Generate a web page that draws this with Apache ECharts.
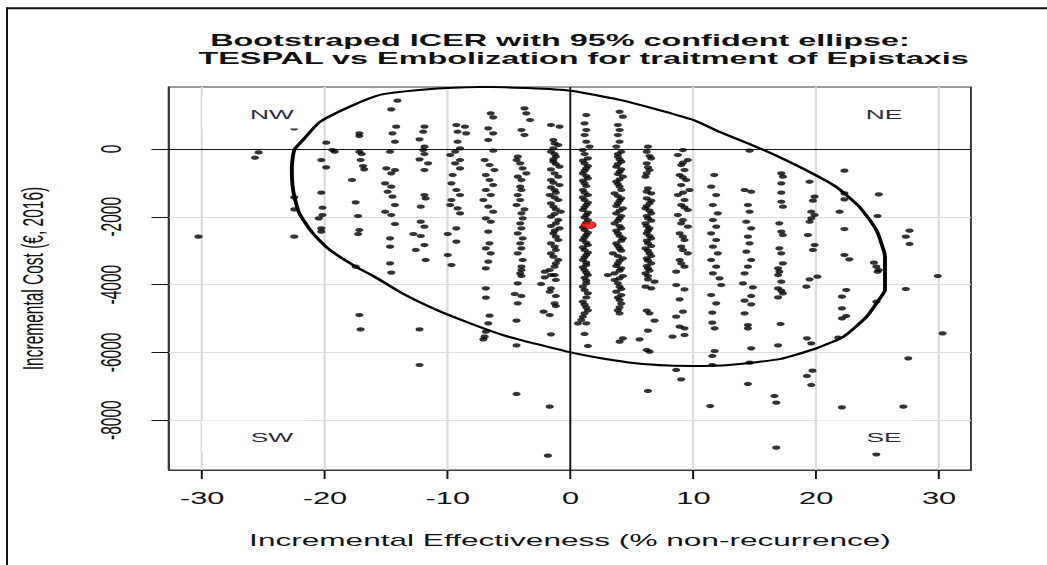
<!DOCTYPE html>
<html>
<head>
<meta charset="utf-8">
<script src="https://cdn.jsdelivr.net/npm/echarts@6/dist/echarts.min.js"></script>
<style>
  html, body { margin: 0; padding: 0; background: #ffffff; overflow: hidden; }
  #wrap { width: 1047px; height: 565px; overflow: hidden; position: relative; }
  #main { width: 537px; height: 565px; transform: scaleX(1.9497); transform-origin: 0 0; position: absolute; left: 0; top: 0; }
</style>
</head>
<body>
<div id="wrap"><div id="main"></div></div>
<script>
// ---------- data ----------
const titleLines = [
  'Bootstraped ICER with 95% confident ellipse:',
  ' TESPAL vs Embolization for traitment of Epistaxis'
];
const xName = 'Incremental Effectiveness (% non-recurrence)';
const yName = 'Incremental Cost (\u20AC, 2016)';
const xTicks = [-30, -20, -10, 0, 10, 20, 30];
const yTicks = [-8000, -6000, -4000, -2000, 0];
const quadrantLabels = ['NW', 'NE', 'SW', 'SE'];

// mean ICER point (red)
const meanPoint = [1.47, -2242];

// 95% confidence ellipse outline, read point by point
const ellipsePts = [
  [-7, 1835], [-3.5, 1800], [0, 1720], [4, 1450], [6.7, 1200], [10, 855], [12.1, 510],
  [15.1, 70], [17.2, -270], [19.7, -720], [21.6, -1110], [23.5, -1700], [24.9, -2390],
  [25.5, -3000], [25.6, -3180], [25.6, -3570], [25.6, -4160], [25.1, -4450], [24.1, -4950],
  [22.2, -5540], [20, -5880], [17, -6200], [12.9, -6370], [10, -6400], [8, -6390],
  [5.3, -6320], [2.6, -6180], [0, -6000], [-2.8, -5750], [-5.5, -5490], [-8.2, -5140],
  [-10.9, -4750], [-13.7, -4260], [-16, -3760], [-17.5, -3470], [-19.6, -2980],
  [-21.0, -2480], [-22.1, -1890], [-22.6, -1210], [-22.7, -560], [-22.5, -30],
  [-21.8, 265], [-20.4, 805], [-18, 1250], [-15.6, 1593], [-13, 1720], [-10, 1800], [-7, 1835]
];

// bootstrap replicates [effectiveness, cost]
const bootPoints = [
  // -30 / -25 / -22.6
  [-30.3,-2586],[-25.4,-99],[-25.7,-256],
  [-22.5,610],[-22.5,-1426],[-22.5,-1780],[-22.5,-2586],
  // -20
  [-19.9,187],[-19.4,-29],[-19.2,-80],[-20.3,-324],[-19.9,-541],[-20.3,-1288],[-20.2,-1731],
  [-20.2,-1947],[-20.5,-2045],[-20.3,-2340],[-20.3,-2438],
  // -17.3
  [-17.2,462],[-17.2,383],[-17.2,-79],[-17.0,-148],[-17.1,-325],[-16.9,-502],[-16.8,-600],
  [-17.8,-915],[-17.5,-1574],[-17.3,-1977],[-17.2,-2390],[-17.3,-2508],[-17.5,-3471],
  [-17.2,-4897],[-17.1,-5320],
  // -14.6
  [-14.1,1426],[-14.6,1170],[-14.2,659],[-14.5,462],[-14.3,216],[-14.7,-79],[-15.0,-570],
  [-14.3,-620],[-14.6,-718],[-15.1,-1013],[-14.6,-1111],[-14.9,-1259],[-14.5,-1406],
  [-14.3,-1652],[-15.1,-1849],[-14.6,-1947],[-14.3,-2212],[-14.7,-2635],[-14.7,-2881],
  [-14.7,-3373],[-14.6,-3648],
  // -12.2
  [-11.9,659],[-12.0,511],[-12.3,285],[-11.9,69],[-12.0,-29],[-11.9,-147],[-12.3,-305],
  [-11.6,-423],[-11.9,-619],[-11.9,-1357],[-11.8,-1455],[-12.2,-1701],[-12.2,-2143],
  [-11.9,-2291],[-12.8,-2507],[-12.2,-2566],[-11.9,-2832],[-12.6,-2979],[-11.8,-3274],
  [-12.3,-5320],[-12.3,-6372],
  // -9.3
  [-9.3,708],[-8.6,659],[-9.2,511],[-8.5,462],[-9.2,216],[-9.0,20],[-9.4,-79],[-9.8,-177],
  [-9.0,-324],[-9.4,-423],[-9.0,-570],[-9.6,-767],[-9.7,-1013],[-9.3,-1209],[-9.0,-1357],
  [-9.7,-1504],[-9.8,-1652],[-9.2,-1750],[-9.0,-1898],[-9.3,-2340],[-10.0,-2507],
  [-9.3,-2734],[-10.0,-3127],[-9.7,-3422],
  // -6.7
  [-6.5,1052],[-6.3,934],[-6.7,610],[-6.3,462],[-6.7,266],[-6.3,-49],[-7.0,-324],[-6.6,-472],
  [-6.2,-620],[-6.9,-767],[-6.6,-915],[-6.3,-1062],[-6.9,-1209],[-6.5,-1357],[-7.1,-1504],
  [-6.7,-1701],[-6.3,-1849],[-6.9,-2045],[-6.5,-2144],[-6.7,-2438],[-6.6,-2783],[-6.9,-2930],
  [-6.5,-3078],[-6.7,-3324],[-6.9,-3520],
  [-6.9,-4110],[-6.9,-4386],[-6.6,-4917],[-6.7,-5143],[-6.9,-5389],[-7.0,-5536],[-7.1,-5615],
  // -4.2
  [-3.75,1200],[-3.6,1052],[-3.3,855],[-4.0,561],[-3.75,413],[-4.3,-226],[-4.4,-324],
  [-3.9,-570],[-3.6,-718],[-4.0,-915],[-4.1,-1111],[-4.3,-1357],[-4.1,-1504],[-4.0,-1898],
  [-3.9,-2045],[-4.1,-2193],[-4.0,-2340],[-4.3,-2488],[-3.9,-2635],[-4.1,-2783],[-4.0,-2930],
  [-4.3,-3078],[-3.9,-3274],[-4.0,-3471],[-4.1,-3668],
  [-4.4,-1652],[-3.75,-1780],[-4.3,-816],[-4.0,-1209],[-4.1,-423],
  [-4.0,-3570],[-4.0,-3746],[-4.3,-3963],[-4.55,-4277],[-4.0,-4336],[-4.3,-4553],
  [-4.4,-5064],[-4.4,-5792],[-4.4,-7227],
  // -1.4
  [-1.6,708],[-0.9,659],[-1.4,266],[-1.0,118],[-1.6,-79],[-1.2,-226],[-1.4,-373],[-0.9,-521],
  [-1.3,-718],[-1.6,-915],[-0.9,-1062],[-1.3,-1209],[-1.7,-1357],[-1.0,-1504],[-1.4,-1701],
  [-0.8,-1849],[-1.6,-1996],[-1.2,-2193],[-0.9,-2340],[-1.4,-2488],[-1.0,-2685],[-1.3,-2881],
  [-1.6,-3078],[-1.2,-3373],[-1.7,-3570],[-1.3,-3717],
  [-1.3,167],[-1.4,20],[-1.3,-148],[-1.4,-305],[-1.2,-443],[-1.6,-600],[-1.0,-816],[-1.4,-993],
  [-1.6,-1131],[-1.2,-1288],[-1.3,-1426],[-1.6,-1603],[-1.2,-1780],[-1.3,-1918],[-1.0,-2095],
  [-1.6,-2271],[-1.3,-2409],[-1.2,-2586],[-1.6,-2783],[-1.2,-2979],[-1.4,-3176],[-1.0,-3274],
  [-1.3,-3471],
  [-2.1,-3619],[-1.6,-3717],[-2.1,-3786],[-1.2,-3864],[-2.4,-3982],[-1.6,-4110],[-1.7,-4209],
  [-1.2,-4336],[-1.3,-4553],[-1.2,-4632],[-2.2,-4799],[-1.7,-4897],[-1.6,-5467],[-1.7,-7601],
  [-1.85,-9047],
  // 1.1
  [1.28,1003],[1.14,757],[1.28,561],[1.14,413],[1.28,216],[1.55,69],[1.0,-29],[1.41,-275],
  [1.14,-423],[1.28,-570],[1.0,-718],[1.41,-865],[1.14,-1013],[1.0,-1209],[1.41,-1357],
  [1.14,-1504],[1.28,-1652],[1.0,-1799],[1.28,-1947],[1.41,-2095],[1.14,-2389],[1.28,-2537],
  [1.0,-2685],[1.41,-2832],[1.14,-2979],[1.28,-3127],[1.0,-3274],[1.28,-3422],[1.14,-3570],
  [1.41,-3717],
  [1.14,-147],[1.0,-344],[1.41,-501],[1.14,-639],[1.28,-796],[1.0,-934],[1.28,-1092],
  [1.14,-1288],[1.0,-1426],[1.41,-1583],[1.14,-1721],[1.41,-1878],[1.14,-2016],[1.28,-2173],
  [1.0,-2311],[1.41,-2468],[1.14,-2606],[1.28,-2763],[1.0,-2901],[1.41,-3058],[1.14,-3196],
  [1.28,-3353],[1.0,-3491],[1.28,-3648],
  [1.28,-3963],[1.14,-4160],[1.41,-4258],[1.0,-4504],[1.28,-4671],[1.14,-4848],[0.87,-5044],
  [1.28,-5143],[1.14,-5457],[1.41,-5811],[1.14,-3800],[1.28,-3880],[1.0,-4060],[1.28,-4380],
  [1.14,-4590],[1.41,-4760],[1.0,-4950],[0.6,-5143],
  // 3.9
  [3.99,1101],[4.26,954],[3.85,708],[3.99,561],[3.85,413],[3.99,216],[3.72,69],[4.13,-79],
  [3.85,-226],[4.13,-373],[3.72,-521],[3.99,-669],[4.26,-816],[3.72,-963],[3.99,-1111],
  [3.58,-1308],[4.13,-1455],[3.85,-1603],[4.26,-1750],[3.72,-1898],[3.99,-2045],[3.58,-2193],
  [4.13,-2340],[3.85,-2488],[4.26,-2635],[3.72,-2783],[3.99,-2930],[3.45,-3078],[4.26,-3225],
  [3.85,-3373],[4.13,-3520],[3.58,-3668],[3.99,-3815],
  [3.85,-147],[3.99,-305],[3.85,-443],[4.13,-600],[3.85,-737],[3.99,-895],[3.85,-1032],
  [4.13,-1209],[3.85,-1387],[3.99,-1524],[3.72,-1682],[3.99,-1819],[4.13,-1976],[3.85,-2114],
  [3.99,-2271],[3.72,-2409],[3.99,-2566],[4.13,-2704],[3.85,-2861],[4.13,-2999],[3.85,-3156],
  [3.99,-3294],[3.72,-3451],[3.99,-3589],[4.26,-3747],
  [3.04,-3717],[3.58,-3864],[3.99,-4061],[3.72,-4209],[4.13,-4307],[3.99,-4455],[3.99,-4671],
  [3.99,-4848],[4.26,-5585],[3.99,-5684],[3.85,-3960],[4.13,-4130],[3.85,-4380],[4.13,-4560],
  [3.85,-4760],
  // 6.4
  [6.3,69],[6.2,-79],[6.57,-275],[6.2,-423],[6.43,-620],[6.1,-816],[6.3,-1160],[6.57,-1308],
  [6.2,-1455],[6.43,-1603],[6.1,-1750],[6.57,-1898],[6.3,-2045],[6.1,-2193],[6.43,-2340],
  [6.2,-2488],[6.57,-2635],[6.3,-2783],[6.1,-2930],[6.43,-3078],[6.2,-3225],[6.57,-3373],
  [6.3,-3520],[6.1,-3668],
  [6.43,-206],[6.3,-541],[6.2,-718],[6.2,-1258],[6.57,-1524],[6.2,-1682],[6.43,-1819],
  [6.2,-1976],[6.57,-2114],[6.2,-2271],[6.3,-2409],[6.43,-2566],[6.2,-2704],[6.57,-2861],
  [6.3,-2999],[6.57,-3156],[6.3,-3294],[6.2,-3451],[6.43,-3589],[6.3,-3747],
  [6.3,-3845],[6.84,-3914],[6.1,-4061],[6.57,-4110],[6.2,-4769],[6.43,-4848],[6.84,-5064],
  [6.3,-5359],[5.62,-5615],[6.2,-5929],[6.43,-5979],[6.3,-7139],
  // 9.0
  [9.15,-29],[8.74,-177],[9.55,-324],[9.01,-472],[9.28,-620],[8.88,-767],[9.42,-915],
  [9.01,-1062],[9.69,-1209],[8.74,-1357],[9.28,-1504],[9.01,-1652],[9.55,-1799],[8.74,-1947],
  [9.15,-2095],[9.55,-2291],[8.88,-2488],[9.28,-2685],[9.01,-2881],[9.55,-3078],[8.88,-3274],
  [9.28,-3471],[8.6,-3619],
  [9.15,-403],[9.15,-836],[9.15,-1288],[9.28,-1721],[9.01,-2193],[9.15,-2586],[9.15,-2979],
  [9.01,-3373],
  [8.6,-4012],[9.28,-4140],[8.88,-4435],[9.15,-4799],[8.6,-4946],[8.88,-5241],[9.28,-5290],
  [9.28,-5487],[8.3,-5536],[8.6,-6519],[9.01,-6795],
  // 11.6
  [11.7,-767],[11.45,-1111],[11.86,-1357],[11.59,-1652],[11.99,-1898],[11.59,-2095],
  [11.86,-2291],[11.45,-2488],[11.86,-2685],[11.59,-2881],[11.99,-3078],[11.45,-3274],
  [11.86,-3471],[11.59,-3668],
  [12.13,-3815],[12.27,-4012],[11.45,-4307],[11.86,-4553],[11.54,-4828],[11.54,-5123],
  [11.73,-5290],[11.73,-5959],[11.54,-6106],[11.54,-6372],[11.37,-7582],
  // 14.4
  [14.58,-49],[14.17,-1209],[14.71,-1259],[14.44,-1652],[14.58,-1849],[14.31,-2144],
  [14.71,-2340],[14.44,-2586],[14.58,-2783],[14.31,-3029],[14.71,-3274],[14.44,-3471],
  [14.17,-3668],
  [14.04,-3963],[14.85,-4081],[14.71,-4336],[14.17,-4474],[14.71,-4582],[14.17,-4848],
  [14.44,-5192],[14.44,-5290],[14.71,-5880],[14.58,-6303],[14.44,-6932],
  // 17
  [17.16,-718],[17.29,-816],[17.16,-1013],[17.16,-1288],[17.16,-1554],[17.29,-1701],
  [17.0,-2193],[17.16,-2438],[17.29,-2537],[17.0,-2930],[17.16,-3078],[17.29,-3373],
  [16.9,-3520],[17.0,-3619],[16.9,-3717],
  [17.16,-3914],[16.9,-4110],[17.16,-4179],[17.29,-4258],[16.9,-4376],[17.1,-5162],
  [16.9,-5792],[16.6,-7286],[16.75,-7483],[16.75,-8811],
  // 19.6
  [19.46,-964],[19.87,-1406],[19.73,-1524],[19.6,-1849],[19.87,-1947],[19.6,-2046],
  [19.46,-2144],[19.33,-2537],[19.87,-2832],[19.73,-2979],[20.1,-3766],[19.46,-3845],
  [19.2,-4061],[19.25,-5585],[19.6,-5733],[19.7,-6539],[19.25,-6696],[19.6,-6962],
  // 22.2
  [22.3,-639],[22.3,-1308],[22.3,-1485],[21.9,-1849],[22.3,-2360],[22.3,-3127],[22.7,-3255],
  [22.45,-4160],[22.1,-4356],[22.1,-4700],[22.45,-4926],[22.1,-4995],[21.8,-5566],[22.1,-7621],
  // 25
  [25.1,-1337],[25.0,-1976],[24.7,-3353],[24.9,-3471],[25.0,-3619],[25.1,-3570],[24.9,-4504],
  [24.9,-9007],
  // 27.5 / 30
  [27.6,-2409],[27.3,-2586],[27.6,-2802],[27.3,-4130],[27.5,-6175],[27.1,-7601],
  [29.9,-3747],[30.3,-5438]
];

// ---------- chart ----------
const FONT = '"Liberation Sans", Arial, sans-serif';
const chart = echarts.init(document.getElementById('main'), null, { renderer: 'svg' });

const gridLineData = xTicks.filter(v => v !== 0).map(v => ({ xAxis: v }))
  .concat(yTicks.filter(v => v !== 0).map(v => ({ yAxis: v })));
const zeroLineData = [{ xAxis: 0 }, { yAxis: 0 }];

const boxW = 157.5 - 103.6, boxW2 = 468.8 - 420.1;

chart.setOption({
  animation: false,
  backgroundColor: '#ffffff',
  grid: { left: 86.7, right: 39.0, top: 87, bottom: 95, show: true, borderColor: '#3a3a3a', borderWidth: 1, backgroundColor: 'transparent' },
  xAxis: {
    type: 'value', min: -32.7, max: 32.6,
    name: xName, nameLocation: 'middle', nameGap: 62,
    nameTextStyle: { fontFamily: FONT, fontSize: 16.2, color: '#111' },
    axisLine: { show: true, onZero: false, lineStyle: { color: '#3a3a3a', width: 1 } },
    axisTick: { show: true, customValues: xTicks, length: 9, lineStyle: { color: '#111', width: 1 } },
    axisLabel: { customValues: xTicks, fontFamily: FONT, fontSize: 15.8, color: '#111', margin: 21, formatter: v => String(v) },
    splitLine: { show: false }
  },
  yAxis: {
    type: 'value', min: -9470, max: 1830,
    name: yName, nameLocation: 'middle', nameGap: 62,
    nameTextStyle: { fontFamily: FONT, fontSize: 15.5, color: '#111' },
    axisLine: { show: true, onZero: false, lineStyle: { color: '#3a3a3a', width: 1 } },
    axisTick: { show: true, customValues: yTicks, length: 9, lineStyle: { color: '#111', width: 1 } },
    axisLabel: { customValues: yTicks, rotate: 90, fontFamily: FONT, fontSize: 15.5, color: '#111', margin: 22, formatter: v => String(v) },
    splitLine: { show: false }
  },
  series: [
    {
      type: 'scatter', name: 'Bootstrap replicates', data: bootPoints,
      symbol: 'circle', symbolSize: 4.2, silent: true, z: 4,
      itemStyle: { color: '#000000' },
      markLine: {
        silent: true, symbol: ['none', 'none'], z: 1, animation: false,
        label: { show: false },
        lineStyle: { type: 'solid', color: '#dcdcdc', width: 1.2 },
        emphasis: { disabled: true },
        data: gridLineData
      }
    },
    {
      type: 'line', name: '95% ellipse', data: ellipsePts,
      showSymbol: false, symbol: 'none', smooth: 0.2, silent: true, z: 3, clip: true,
      lineStyle: { color: '#000000', width: 2 },
      markLine: {
        silent: true, symbol: ['none', 'none'], z: 2, animation: false,
        label: { show: false },
        lineStyle: { type: 'solid', color: '#111111', width: 1 },
        emphasis: { disabled: true },
        data: zeroLineData
      }
    },
    {
      type: 'scatter', name: 'Mean', data: [meanPoint],
      symbol: 'circle', symbolSize: 7.5, silent: true, z: 5,
      itemStyle: { color: '#ff0000', borderColor: '#400000', borderWidth: 0.6 }
    }
  ],
  graphic: [
    // outer frame
    { type: 'line', silent: true, z: 10, shape: { x1: 3.6, y1: 8.3, x2: 540, y2: 8.3 }, style: { stroke: '#111', lineWidth: 2 } },
    { type: 'line', silent: true, z: 10, shape: { x1: 3.6, y1: 7.3, x2: 3.6, y2: 566 }, style: { stroke: '#111', lineWidth: 1 } },
    // title
    { type: 'text', silent: true, z: 10, x: 287.2, y: 40, style: { text: titleLines[0], font: 'bold 16.6px ' + FONT, fill: '#111', align: 'center', verticalAlign: 'middle' } },
    { type: 'text', silent: true, z: 10, x: 297.0, y: 58, style: { text: titleLines[1], font: 'bold 16.6px ' + FONT, fill: '#111', align: 'center', verticalAlign: 'middle' } },
    // quadrant label boxes
    { type: 'rect', silent: true, z: 8, shape: { x: 103.6, y: 97, width: boxW, height: 31.5 }, style: { fill: '#ffffff' } },
    { type: 'rect', silent: true, z: 8, shape: { x: 420.1, y: 97, width: boxW2, height: 31.5 }, style: { fill: '#ffffff' } },
    { type: 'rect', silent: true, z: 8, shape: { x: 103.6, y: 420.5, width: boxW, height: 32 }, style: { fill: '#ffffff' } },
    { type: 'rect', silent: true, z: 8, shape: { x: 420.1, y: 420.5, width: boxW2, height: 32 }, style: { fill: '#ffffff' } },
    { type: 'text', silent: true, z: 9, x: 139.5, y: 114, style: { text: quadrantLabels[0], font: '13.5px ' + FONT, fill: '#2a2a3a', align: 'center', verticalAlign: 'middle' } },
    { type: 'text', silent: true, z: 9, x: 453.4, y: 114, style: { text: quadrantLabels[1], font: '13.5px ' + FONT, fill: '#2a2a3a', align: 'center', verticalAlign: 'middle' } },
    { type: 'text', silent: true, z: 9, x: 139.5, y: 437, style: { text: quadrantLabels[2], font: '13.5px ' + FONT, fill: '#2a2a3a', align: 'center', verticalAlign: 'middle' } },
    { type: 'text', silent: true, z: 9, x: 453.4, y: 437, style: { text: quadrantLabels[3], font: '13.5px ' + FONT, fill: '#2a2a3a', align: 'center', verticalAlign: 'middle' } }
  ]
});
</script>
</body>
</html>
